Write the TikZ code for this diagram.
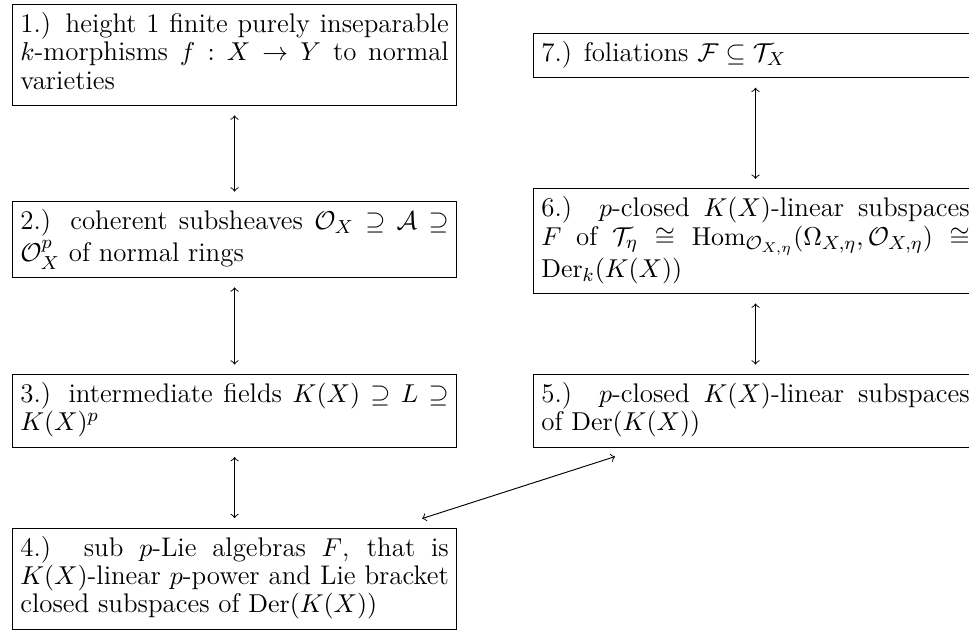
\documentclass[tikz,border=0pt]{standalone}
\usepackage{amsmath, amssymb}
\usepackage{tikz}
\usetikzlibrary{positioning}
\tikzset{
    corr_box/.style={
        draw,
        text width=6.38cm,
        align=justify,
        inner sep=3.33pt,
        font=\fontsize{11.4pt}{12pt}\selectfont,
        execute at begin node={\spaceskip=\fontdimen2\font plus \fontdimen3\font\relax\strut},
        execute at end node=\strut
    },
    corr_edge/.style={
        <->,
        shorten <=4pt,
        shorten >=4pt
    }
}

\begin{document}
\begin{tikzpicture}[node distance=1.19cm]
    \useasboundingbox (0,0) rectangle (14.43,-9.485);

    % left column
    \node[corr_box, anchor=north west] (b1) at (0.179,-0.06)
        {1.) height 1 finite purely inseparable $k$-morphisms $f : X \to Y$ to normal varieties};
    \node[corr_box, below=1.415cm of b1] (b2)
        {2.) coherent subsheaves $\mathcal{O}_X \supseteq \mathcal{A} \supseteq \mathcal{O}_X^p$ of normal rings};
    \node[corr_box, below=1.43cm of b2] (b3)
        {3.) intermediate fields $K(X) \supseteq L \supseteq K(X)^p$};
    \node[corr_box, below=of b3] (b4)
        {4.) sub $p$-Lie algebras $F$, that is $K(X)$-linear $p$-power and Lie bracket closed subspaces of $\operatorname{Der}(K(X))$};

    % right column
    \node[corr_box, right=1.13cm of b3] (b5)
        {5.) $p$-closed $K(X)$-linear subspaces of $\operatorname{Der}(K(X))$};
    \node[corr_box, above=of b5] (b6)
        {6.) $p$-closed $K(X)$-linear subspaces $F$ of $\mathcal{T}_\eta \cong \operatorname{Hom}_{\mathcal{O}_{X,\eta}}(\Omega_{X,\eta}, \mathcal{O}_{X,\eta}) \cong \operatorname{Der}_k(K(X))$};
    \node[corr_box, above=1.638cm of b6] (b7)
        {7.) foliations $\mathcal{F} \subseteq \mathcal{T}_X$};

    \draw[corr_edge] (b1) -- (b2);
    \draw[corr_edge] (b2) -- (b3);
    \draw[corr_edge] (b3) -- (b4);
    \draw[corr_edge] (b7) -- (b6);
    \draw[corr_edge] (b6) -- (b5);
    \draw[<->] ([xshift=-0.521cm, yshift=0.134cm]b4.north east)
        -- ([xshift=1.221cm, yshift=-0.134cm]b5.south west);
\end{tikzpicture}
\end{document}
